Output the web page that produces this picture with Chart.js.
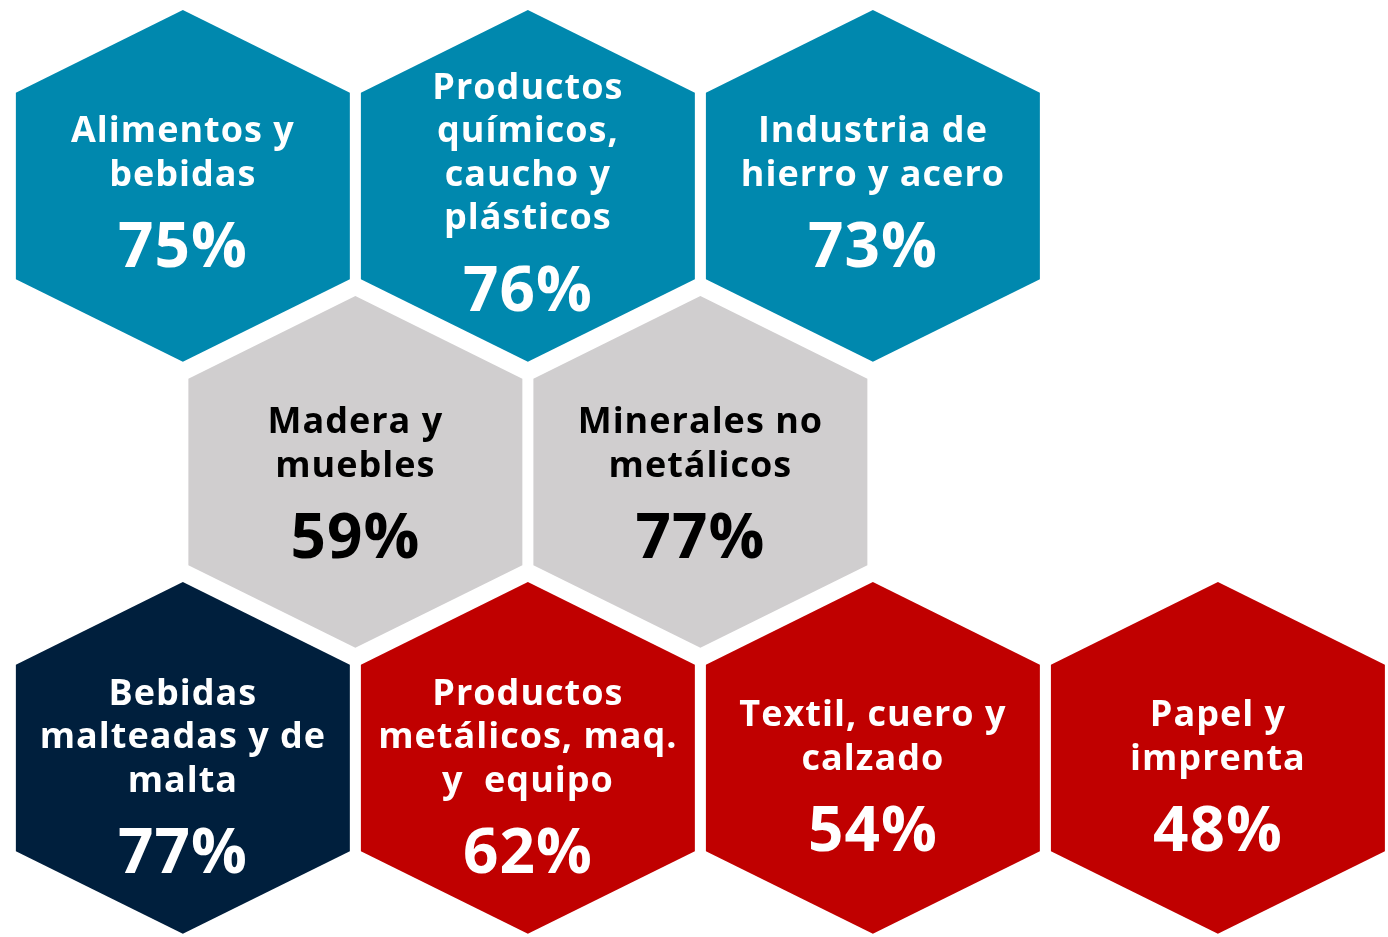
<!DOCTYPE html>
<html>
<head>
<meta charset="utf-8">
<script src="https://cdn.jsdelivr.net/npm/chart.js@4.4.1/dist/chart.umd.min.js"></script>
<style>
  html, body { margin: 0; padding: 0; background: #ffffff; }
  #wrap { position: relative; width: 1388px; height: 937px; }
</style>
</head>
<body>
<div id="wrap"><canvas id="hexChart"></canvas></div>
<script>
// sector names (one entry per text line), share and group of each hexagon
const sectors = [
  ["Alimentos y", "bebidas"],
  ["Productos", "químicos,", "caucho y", "plásticos"],
  ["Industria de", "hierro y acero"],
  ["Madera y", "muebles"],
  ["Minerales no", "metálicos"],
  ["Bebidas", "malteadas y de", "malta"],
  ["Productos", "metálicos, maq.", "y  equipo"],
  ["Textil, cuero y", "calzado"],
  ["Papel y", "imprenta"]
];
const shares = [75, 76, 73, 59, 77, 77, 62, 54, 48];
const groups = ["alto", "alto", "alto", "medio", "medio", "malta", "bajo", "bajo", "bajo"];
// honeycomb grid slot of each hexagon (column, row)
const gridCols = [0, 1, 2, 0.5, 1.5, 0, 1, 2, 3];
const gridRows = [0, 0, 0, 1, 1, 2, 2, 2, 2];

const groupColors = { alto: "#0088AE", medio: "#D0CECF", malta: "#001F3D", bajo: "#C00000" };
const groupText = { alto: "#ffffff", medio: "#000000", malta: "#ffffff", bajo: "#ffffff" };
// the lower rows sit their labels a little lower inside the hexagon
const rowTextShift = [0, 5, 12];

const points = shares.map((v, i) => ({ x: gridCols[i], y: gridRows[i], v: v }));

// draws a hexagon with its labels around every point of the dataset
const hexPlugin = {
  id: "hexagons",
  afterDatasetsDraw(chart) {
    const ctx = chart.ctx;
    const xs = chart.scales.x;
    const ys = chart.scales.y;
    const colPx = xs.getPixelForValue(1) - xs.getPixelForValue(0);
    const rowPx = Math.abs(ys.getPixelForValue(1) - ys.getPixelForValue(0));
    const hw = colPx * 0.484;
    const tip = rowPx * 0.615;
    const sh = rowPx * 0.326;
    const meta = chart.getDatasetMeta(0);

    meta.data.forEach((el, i) => {
      const cx = el.x, cy = el.y;
      ctx.save();
      ctx.beginPath();
      ctx.moveTo(cx, cy - tip);
      ctx.lineTo(cx + hw, cy - sh);
      ctx.lineTo(cx + hw, cy + sh);
      ctx.lineTo(cx, cy + tip);
      ctx.lineTo(cx - hw, cy + sh);
      ctx.lineTo(cx - hw, cy - sh);
      ctx.closePath();
      ctx.fillStyle = groupColors[groups[i]];
      ctx.fill();

      // labels
      const lines = sectors[i];
      const lineH = 43.5;
      const pctGap = 72;
      const span = (lines.length - 1) * lineH + pctGap;
      let y = cy + 4 + rowTextShift[gridRows[i]] - span / 2;
      ctx.fillStyle = groupText[groups[i]];
      ctx.textAlign = "center";
      ctx.textBaseline = "middle";
      ctx.font = "bold 36px 'Open Sans', 'Noto Sans', sans-serif";
      ctx.letterSpacing = "1px";
      lines.forEach((t) => {
        ctx.fillText(t, cx, y);
        y += lineH;
      });
      y += pctGap - lineH;
      ctx.font = "bold 62px 'Open Sans', 'Noto Sans', sans-serif";
      ctx.letterSpacing = "1px";
      ctx.fillText(shares[i] + "%", cx, y + 2);
      ctx.restore();
    });
  }
};

new Chart(document.getElementById("hexChart"), {
  type: "scatter",
  data: {
    datasets: [{
      label: "Participación",
      data: points,
      pointRadius: 0,
      pointHoverRadius: 0
    }]
  },
  options: {
    responsive: true,
    maintainAspectRatio: false,
    animation: false,
    layout: { padding: 0 },
    plugins: { legend: { display: false }, tooltip: { enabled: false } },
    scales: {
      x: { type: "linear", display: false, min: -0.530, max: 3.493 },
      y: { type: "linear", display: false, reverse: true, min: -0.650, max: 2.626 }
    }
  },
  plugins: [hexPlugin]
});
</script>
</body>
</html>
